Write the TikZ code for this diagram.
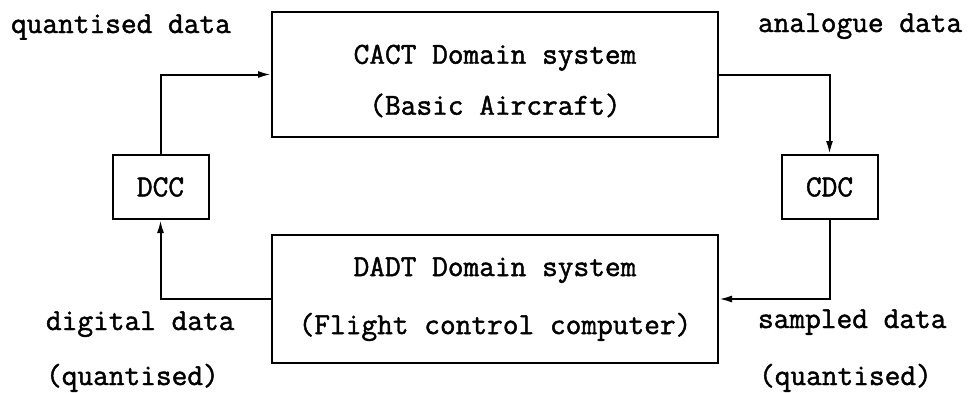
\documentclass[tikz,border=0pt]{standalone}
\usepackage{fontspec}
\newfontfamily\typefont{Latin Modern Mono}[FakeBold=1.5]
\usepackage{tikz}
\usetikzlibrary{arrows.meta}

\begin{document}
\begin{tikzpicture}[x=1pt,y=-1pt,line width=2pt,
    every node/.style={font=\typefont\fontsize{30.5pt}{31pt}\selectfont},
    domainbox/.style={draw,align=center,minimum width=446pt},
    convbox/.style={draw,minimum width=96pt,minimum height=64pt},
    flow/.style={-{Latex[length=13pt,width=7pt]}}]
    \useasboundingbox (0,0) rectangle (971,392);
    % the two domain systems
    \node[domainbox,minimum height=125pt] (cact) at (495,74.5) {\rule{0pt}{32pt}CACT Domain system\\[20pt](Basic Aircraft)};
    \node[domainbox,minimum height=128pt] (dadt) at (495,299) {DADT Domain system\\[27pt](Flight control computer)};
    % converters
    \node[convbox] (dcc) at (160.5,187) {DCC};
    \node[convbox] (cdc) at (829.5,187) {CDC};
    \draw[flow] (dcc.north) |- (cact.west);
    \draw[flow] (cact.east) -| (cdc.north);
    \draw[flow] (cdc.south) |- (dadt.east);
    \draw[flow] (dadt.west) -| (dcc.south);
    % data labels
    \node[anchor=base west,inner sep=0pt] (quant) at (10,33) {quantised data};
    \node[anchor=base west,inner sep=0pt] (analog) at (757,32) {analogue data};
    \node[anchor=base west,inner sep=0pt] (digital) at (45,330) {digital data};
    \node[anchor=base west,inner sep=0pt] (digitalq) at (45,385) {(quantised)};
    \node[anchor=base west,inner sep=0pt] (sampled) at (757,328) {sampled data};
    \node[anchor=base west,inner sep=0pt] (sampledq) at (758,385) {(quantised)};
\end{tikzpicture}
\end{document}
